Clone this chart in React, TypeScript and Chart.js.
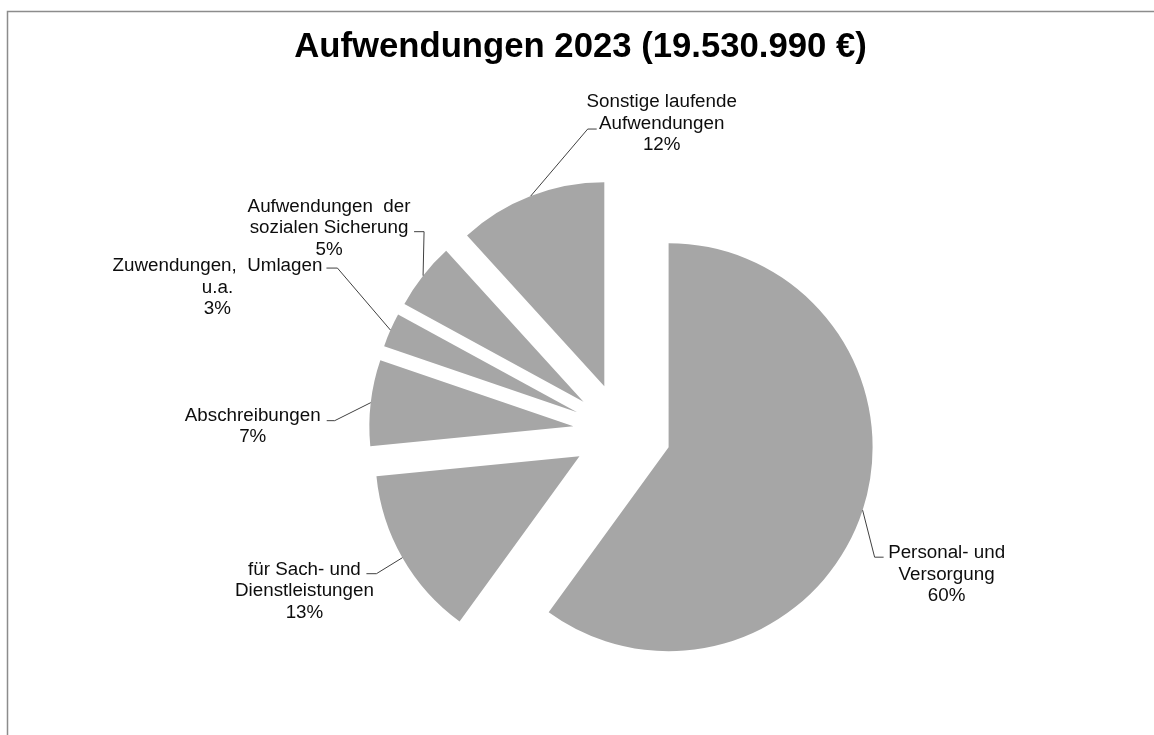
import React, { useEffect, useRef } from 'react';
import { Chart, registerables } from 'chart.js';

Chart.register(...registerables);

// ---------- data ----------
const chartTitle = 'Aufwendungen 2023 (19.530.990 €)';
const categories = [
  'Personal- und\nVersorgung',
  'für Sach- und\nDienstleistungen',
  'Abschreibungen',
  'Zuwendungen,  Umlagen\nu.a.',
  'Aufwendungen  der\nsozialen Sicherung',
  'Sonstige laufende\nAufwendungen',
];
const shares = [60.0, 13.45, 6.8, 2.7, 5.3, 11.75];

// ---------- layout / style ----------
const W = 1154;
const H = 735;
const EXPLODE = 49;
const RADIUS = 204;
const SLICE_COLOR = '#a6a6a6';
const FONT = '"Liberation Sans", Arial, sans-serif';
const LABEL_SIZE = 18.8;
const LINE_H = 21.5;
// label layout, relative to the leader anchor (outer mid-point of each exploded slice)
const leaderElbow = [[12, 47], [-26, 16], [-36, 18], [-53, -62], [1, -44], [57, -67]];
const leaderTail = [9, -10, -8, -11, -10, 9];
const labelOffset = [[84, 48], [-98, 17], [-118, 18], [-173, -59], [-94, -64], [131, -89]];

const pieDecor = {
  id: 'pieDecor',
  beforeDraw(chart: any) {
    const ctx = chart.ctx;
    ctx.save();
    ctx.strokeStyle = '#8c8c8c';
    ctx.lineWidth = 1.5;
    ctx.beginPath();
    ctx.moveTo(7.5, H);
    ctx.lineTo(7.5, 11.5);
    ctx.lineTo(W, 11.5);
    ctx.stroke();
    ctx.fillStyle = '#000';
    ctx.font = `bold 34.7px ${FONT}`;
    ctx.textAlign = 'center';
    ctx.textBaseline = 'alphabetic';
    ctx.fillText(chartTitle, 580.5, 57);
    ctx.restore();
  },
  beforeDatasetsDraw(chart: any) {
    const ctx = chart.ctx;
    const meta = chart.getDatasetMeta(0);
    meta.data.forEach((arc: any) => {
      const p = arc.getProps(['startAngle', 'endAngle'], true);
      const mid = (p.startAngle + p.endAngle) / 2;
      ctx.save();
      ctx.translate(Math.cos(mid) * EXPLODE, Math.sin(mid) * EXPLODE);
      arc.draw(ctx);
      ctx.restore();
    });
    return false;
  },
  afterDraw(chart: any) {
    const ctx = chart.ctx;
    const meta = chart.getDatasetMeta(0);
    const total = shares.reduce((a, b) => a + b, 0);
    ctx.save();
    meta.data.forEach((arc: any, i: number) => {
      const p = arc.getProps(['x', 'y', 'startAngle', 'endAngle', 'outerRadius'], true);
      const mid = (p.startAngle + p.endAngle) / 2;
      const ax = p.x + Math.cos(mid) * (EXPLODE + p.outerRadius);
      const ay = p.y + Math.sin(mid) * (EXPLODE + p.outerRadius);
      const ex = ax + leaderElbow[i][0];
      const ey = ay + leaderElbow[i][1];
      ctx.strokeStyle = '#404040';
      ctx.lineWidth = 1;
      ctx.beginPath();
      ctx.moveTo(ax, ay);
      ctx.lineTo(ex, ey);
      ctx.lineTo(ex + leaderTail[i], ey);
      ctx.stroke();
      const lines = categories[i].split('\n');
      lines.push(Math.round((shares[i] / total) * 100) + '%');
      ctx.fillStyle = '#0d0d0d';
      ctx.font = `${LABEL_SIZE}px ${FONT}`;
      ctx.textAlign = 'center';
      ctx.textBaseline = 'alphabetic';
      lines.forEach((t, k) => {
        ctx.fillText(t, ax + labelOffset[i][0], ay + labelOffset[i][1] + k * LINE_H);
      });
    });
    ctx.restore();
  },
};

export default function App() {
  const ref = useRef<HTMLCanvasElement | null>(null);
  useEffect(() => {
    if (!ref.current) return;
    const chart = new Chart(ref.current, {
      type: 'pie',
      data: {
        labels: categories.map((c) => c.replace('\n', ' ')),
        datasets: [
          {
            data: shares,
            backgroundColor: SLICE_COLOR,
            borderWidth: 0,
            radius: RADIUS,
          } as any,
        ],
      },
      options: {
        responsive: false,
        animation: false,
        events: [],
        layout: { padding: { top: 129, left: 90, right: 0, bottom: 0 } },
        plugins: {
          legend: { display: false },
          title: { display: false },
          tooltip: { enabled: false },
        },
      },
      plugins: [pieDecor],
    });
    return () => chart.destroy();
  }, []);
  return (
    <div style={{ position: 'fixed', left: 0, top: 0, width: W, height: H, background: '#fff' }}>
      <canvas ref={ref} width={W} height={H} style={{ width: W, height: H, display: 'block' }} />
    </div>
  );
}
